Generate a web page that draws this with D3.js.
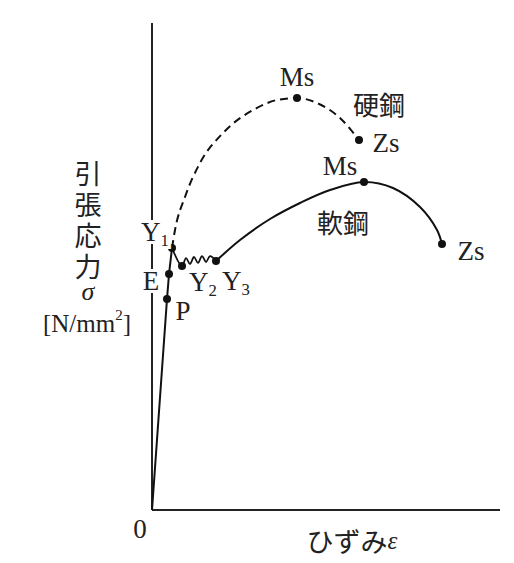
<!DOCTYPE html>
<html><head><meta charset="utf-8">
<script src="https://cdn.jsdelivr.net/npm/d3@7/dist/d3.min.js"></script>
<style>body{margin:0;background:#fff}</style>
</head><body>
<svg id="c" width="514" height="563"></svg>
<script>
// data (schematic strain / stress units)
const elastic = [[0,0],[4.31,43.24],[4.89,48.36],[5.75,53.69]];
const yieldZig = [[5.75,53.69],[8.62,50.0],[9.77,51.63],[10.92,50.41],[12.07,51.84],[13.22,50.62],[14.37,52.04],[15.52,50.82],[16.67,52.04],[18.39,51.02]];
const softCurve = [[18.39,51.02],[25.29,55.33],[33.91,59.63],[42.53,62.91],[51.15,65.57],[60.92,67.21],[69.25,65.98],[77.01,62.09],[81.90,57.38],[83.33,54.51]];
const hardCurve = [[5.75,53.69],[6.61,57.38],[9.48,64.14],[13.79,71.11],[20.40,77.25],[30.17,82.38],[35.92,84.02],[41.67,84.43],[47.41,83.40],[54.02,80.33],[59.48,75.82]];
const softPoints = [{n:"P",p:[4.31,43.24]},{n:"E",p:[4.89,48.36]},{n:"Y1",p:[5.75,53.69]},{n:"Y2",p:[8.62,50.0]},{n:"Y3",p:[18.39,51.02]},{n:"Ms",p:[60.92,67.21]},{n:"Zs",p:[83.33,54.51]}];
const hardPoints = [{n:"Ms",p:[41.67,84.43]},{n:"Zs",p:[59.48,75.82]}];
const yLabel = "引張応力";

const svg = d3.select("#c");
const x = d3.scaleLinear().domain([0,100]).range([152,500]);
const y = d3.scaleLinear().domain([0,100]).range([510,22]);
const serif = "'Liberation Serif','DejaVu Serif',serif";
const jp = "'Noto Sans CJK JP','Noto Sans CJK SC',sans-serif";

// axes
svg.append("line").attr("x1",x(0)).attr("x2",x(0)).attr("y1",y(0)).attr("y2",23).attr("stroke","#222").attr("stroke-width",2);
svg.append("line").attr("x1",x(0)).attr("x2",x(100)).attr("y1",y(0)).attr("y2",y(0)).attr("stroke","#222").attr("stroke-width",2);

const line = d3.line().x(d=>x(d[0])).y(d=>y(d[1]));
const smooth = d3.line().x(d=>x(d[0])).y(d=>y(d[1])).curve(d3.curveMonotoneX);
const cr = d3.line().x(d=>x(d[0])).y(d=>y(d[1])).curve(d3.curveCatmullRom.alpha(0.5));

svg.append("path").attr("d",line(elastic)).attr("fill","none").attr("stroke","#111").attr("stroke-width",2);
svg.append("path").attr("d",cr(yieldZig)).attr("fill","none").attr("stroke","#111").attr("stroke-width",1.8);
svg.append("path").attr("d",cr(softCurve)).attr("fill","none").attr("stroke","#111").attr("stroke-width",2);
svg.append("path").attr("d",smooth(hardCurve)).attr("fill","none").attr("stroke","#111").attr("stroke-width",2).attr("stroke-dasharray","8,5");

svg.selectAll("circle.s").data(softPoints.concat(hardPoints)).enter().append("circle")
  .attr("cx",d=>x(d.p[0])).attr("cy",d=>y(d.p[1])).attr("r",4).attr("fill","#111");

function lab(tx,ty,t,size,font,opts={}){
  const el = svg.append("text").attr("x",tx).attr("y",ty).attr("text-anchor",opts.anchor||"middle")
    .attr("dominant-baseline","central").attr("font-family",font).attr("font-size",size).attr("fill","#222");
  if(opts.italic) el.attr("font-style","italic");
  if(opts.halo) el.attr("stroke","#fff").attr("stroke-width",6).attr("paint-order","stroke");
  el.text(t);
  return el;
}
function sub(tx,ty,main,s,size,halo){
  const el = svg.append("text").attr("x",tx).attr("y",ty).attr("text-anchor","middle").attr("dominant-baseline","central")
    .attr("font-family",serif).attr("font-size",size).attr("fill","#222");
  if(halo) el.attr("stroke","#fff").attr("stroke-width",6).attr("paint-order","stroke");
  el.append("tspan").text(main);
  el.append("tspan").attr("font-size",size*0.62).attr("dy",size*0.3).text(s);
}

// point labels
sub(155,232,"Y","1",27,true);
lab(151,281,"E",27,serif,{halo:true});
lab(183,311,"P",27,serif);
sub(203,282,"Y","2",27,false);
sub(236,281,"Y","3",27,false);
lab(x(hardPoints[0].p[0]),77,"Ms",27,serif);
lab(386,143,"Zs",27,serif);
lab(340,166,"Ms",27,serif);
lab(471,251,"Zs",27,serif);
lab(379,103,"硬鋼",26,jp);
lab(343,221,"軟鋼",26,jp);

// axis labels
lab(140,529,"0",27,serif);
const xl = svg.append("text").attr("x",352).attr("y",540).attr("text-anchor","middle").attr("dominant-baseline","central")
  .attr("font-family",jp).attr("font-size",27).attr("fill","#222");
xl.append("tspan").text("ひずみ");
xl.append("tspan").attr("font-size",25).attr("font-style","italic").attr("font-family",serif).text("ε");

svg.append("text").attr("x",88).attr("y",160).attr("writing-mode","vertical-rl").attr("text-anchor","start")
  .attr("font-family",jp).attr("font-size",27).attr("letter-spacing",4).attr("fill","#222").text(yLabel);
lab(88,291,"σ",26,serif,{italic:true});
const nl = svg.append("text").attr("x",87).attr("y",323).attr("text-anchor","middle").attr("dominant-baseline","central")
  .attr("font-family",serif).attr("font-size",25).attr("fill","#222");
nl.append("tspan").text("[N/mm");
nl.append("tspan").attr("font-size",15).attr("dy",-8).text("2");
nl.append("tspan").attr("dy",8).text("]");
</script>
</body></html>
